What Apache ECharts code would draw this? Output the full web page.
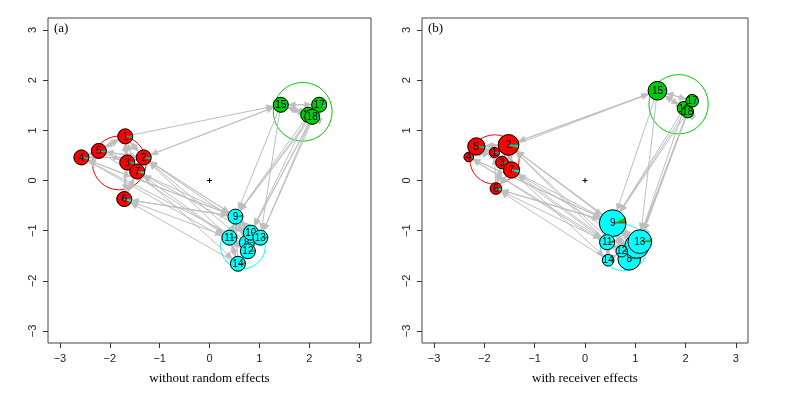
<!DOCTYPE html>
<html>
<head>
<meta charset="utf-8">
<script src="https://cdn.jsdelivr.net/npm/echarts@6/dist/echarts.min.js"></script>
<style>
  html, body { margin: 0; padding: 0; background: #fff; }
  #main { width: 801px; height: 399px; }
</style>
</head>
<body>
<div id="main"></div>
<script>
// axis ticks
var tickValues = [-3, -2, -1, 0, 1, 2, 3];
var axisLimit = 3.24;

// cluster colours: red, green3, cyan (R palette)
var clusterColors = ['#FF0000', '#00CD00', '#00FFFF'];
var nodeLabels = ['1','2','3','4','5','6','7','8','9','10','11','12','13','14','15','16','17','18'];

// panel (a): without random effects
var nodeXA = [-1.69, -1.32, -1.65, -2.57, -2.22, -1.71, -1.45, 0.75, 0.52, 0.83, 0.40, 0.77, 1.02, 0.57, 1.43, 1.98, 2.20, 2.06];
var nodeYA = [0.88, 0.46, 0.36, 0.46, 0.59, -0.37, 0.18, -1.24, -0.72, -1.04, -1.14, -1.41, -1.14, -1.66, 1.51, 1.31, 1.51, 1.27];
var nodeRA = [0.15, 0.15, 0.15, 0.15, 0.15, 0.15, 0.15, 0.15, 0.15, 0.15, 0.15, 0.15, 0.15, 0.15, 0.15, 0.15, 0.15, 0.15];
var pRedA   = [0.97, 0.96, 0.97, 0.96, 0.97, 0.93, 0.95, 0.01, 0.04, 0.01, 0.03, 0.01, 0.01, 0.03, 0.03, 0.01, 0.01, 0.01];
var pGreenA = [0.02, 0.02, 0.02, 0.02, 0.02, 0.01, 0.02, 0.02, 0.01, 0.02, 0.01, 0.02, 0.02, 0.01, 0.96, 0.96, 0.96, 0.96];
var pCyanA  = [0.01, 0.02, 0.01, 0.02, 0.01, 0.06, 0.03, 0.97, 0.95, 0.97, 0.96, 0.97, 0.97, 0.96, 0.01, 0.03, 0.03, 0.03];
var clusterXA = [-1.81, 1.87, 0.67];
var clusterYA = [0.35, 1.37, -1.31];
var clusterRA = [0.54, 0.59, 0.45];

// panel (b): with receiver effects
var nodeXB = [-1.80, -1.52, -1.65, -2.31, -2.16, -1.77, -1.46, 0.88, 0.55, 1.03, 0.44, 0.73, 1.09, 0.46, 1.44, 1.97, 2.13, 2.04];
var nodeYB = [0.56, 0.71, 0.36, 0.47, 0.68, -0.16, 0.21, -1.56, -0.85, -1.31, -1.23, -1.41, -1.22, -1.59, 1.79, 1.44, 1.59, 1.37];
var nodeRB = [0.10, 0.205, 0.125, 0.095, 0.17, 0.115, 0.16, 0.225, 0.265, 0.24, 0.15, 0.115, 0.235, 0.115, 0.185, 0.135, 0.125, 0.12];
var pRedB   = [0.97, 0.95, 0.97, 0.96, 0.97, 0.94, 0.94, 0.01, 0.03, 0.01, 0.04, 0.02, 0.01, 0.02, 0.03, 0.01, 0.01, 0.01];
var pGreenB = [0.02, 0.03, 0.02, 0.02, 0.02, 0.01, 0.02, 0.02, 0.04, 0.02, 0.01, 0.01, 0.03, 0.01, 0.96, 0.96, 0.96, 0.96];
var pCyanB  = [0.01, 0.02, 0.01, 0.02, 0.01, 0.05, 0.04, 0.97, 0.93, 0.97, 0.95, 0.97, 0.96, 0.97, 0.01, 0.03, 0.03, 0.03];
var clusterXB = [-1.80, 1.86, 0.77];
var clusterYB = [0.42, 1.52, -1.34];
var clusterRB = [0.49, 0.59, 0.46];

// directed ties (1-based node numbers)
var edgeFrom = [1,1,1, 2,2,2,2,2, 3,3,3,3, 4,4,4, 5,5,5,5, 6,6,6, 7,7,7,7,
                1,2, 4,5,6,6,7,2,3,4,
                8,9,9,10,11,12,13,14,9,8,
                8,8,8, 9,9,9,9, 10,10,10,10, 11,11,11, 12,12,12, 13,13,13, 14,14,14,
                15,15,15, 16,16,16, 17,17,17, 18,18,18,
                15,
                15,15,16,16,17,17,17,18,18,18];
var edgeTo   = [2,3,5, 1,3,4,5,7, 1,2,6,7, 2,5,1, 1,2,4,3, 3,7,1, 2,3,6,1,
                15,15, 9,11,9,11,9,9,14,12,
                2,2,6,7,2,7,2,6,4,4,
                9,10,12, 8,10,12,13, 9,8,13,12, 9,14,12, 8,9,13, 9,10,12, 9,11,12,
                16,17,18, 17,18,15, 16,18,15, 16,17,15,
                2,
                9,13,9,10,9,10,13,10,13,9];

function nodeData(xs, ys, rs, p1, p2, p3) {
  return xs.map(function (x, i) { return [x, ys[i], rs[i], p1[i], p2[i], p3[i]]; });
}
function edgeData(xs, ys, rs) {
  return edgeFrom.map(function (f, i) {
    var a = f - 1, b = edgeTo[i] - 1;
    return [xs[a], ys[a], xs[b], ys[b], rs[a], rs[b]];
  });
}
function clusterData(xs, ys, rs) {
  return xs.map(function (x, i) { return [x, ys[i], rs[i], i]; });
}

function renderNode(params, api) {
  var c = api.coord([api.value(0), api.value(1)]);
  var r = api.size([api.value(2), 0])[0];
  var probs = [api.value(3), api.value(4), api.value(5)];
  var children = [];
  var a = 0;
  for (var k = 0; k < 3; k++) {
    var b = a + probs[k] * 2 * Math.PI;
    if (probs[k] > 0) {
      children.push({
        type: 'sector',
        shape: { cx: c[0], cy: c[1], r: r, r0: 0, startAngle: -a, endAngle: -b, clockwise: false },
        style: { fill: clusterColors[k], stroke: clusterColors[k], lineWidth: 0.6 }
      });
    }
    a = b;
  }
  // radial border line at angle 0, as drawn by the pie outline
  children.push({
    type: 'line',
    shape: { x1: c[0], y1: c[1], x2: c[0] + r, y2: c[1] },
    style: { stroke: '#333', lineWidth: 0.5 }
  });
  children.push({
    type: 'circle',
    shape: { cx: c[0], cy: c[1], r: r },
    style: { fill: 'none', stroke: '#000', lineWidth: 1 }
  });
  children.push({
    type: 'text',
    style: {
      text: nodeLabels[params.dataIndex], x: c[0], y: c[1] + 0.5,
      align: 'center', verticalAlign: 'middle',
      font: '10px "Liberation Sans", Arial, sans-serif', fill: '#000'
    }
  });
  return { type: 'group', children: children };
}

function renderEdge(params, api) {
  var p1 = api.coord([api.value(0), api.value(1)]);
  var p2 = api.coord([api.value(2), api.value(3)]);
  var r1 = api.size([api.value(4), 0])[0];
  var r2 = api.size([api.value(5), 0])[0];
  var dx = p2[0] - p1[0], dy = p2[1] - p1[1];
  var len = Math.sqrt(dx * dx + dy * dy) || 1;
  var ux = dx / len, uy = dy / len;
  var sx = p1[0] + ux * r1, sy = p1[1] + uy * r1;
  var ex = p2[0] - ux * r2, ey = p2[1] - uy * r2;
  var hl = 7, hw = 3;
  var bx = ex - ux * hl, by = ey - uy * hl;
  return {
    type: 'group',
    children: [
      { type: 'line', shape: { x1: sx, y1: sy, x2: bx + ux * 2, y2: by + uy * 2 },
        style: { stroke: '#BEBEBE', lineWidth: 1 } },
      { type: 'polygon', shape: { points: [[ex, ey], [bx - uy * hw, by + ux * hw], [bx + uy * hw, by - ux * hw]] },
        style: { fill: '#BEBEBE', stroke: '#BEBEBE', lineWidth: 0.5 } }
    ]
  };
}

function renderCluster(params, api) {
  var c = api.coord([api.value(0), api.value(1)]);
  var r = api.size([api.value(2), 0])[0];
  return {
    type: 'circle',
    shape: { cx: c[0], cy: c[1], r: r },
    style: { fill: 'none', stroke: clusterColors[api.value(3)], lineWidth: 1 }
  };
}

function renderOrigin(params, api) {
  var c = api.coord([api.value(0), api.value(1)]);
  var s = 2.5;
  return {
    type: 'group',
    children: [
      { type: 'line', shape: { x1: c[0] - s, y1: c[1], x2: c[0] + s, y2: c[1] }, style: { stroke: '#000', lineWidth: 1 } },
      { type: 'line', shape: { x1: c[0], y1: c[1] - s, x2: c[0], y2: c[1] + s }, style: { stroke: '#000', lineWidth: 1 } }
    ]
  };
}

function fmt(v) { return String(v).replace('-', '\u2212'); }

function xAxisFor(idx, name) {
  return {
    type: 'value', gridIndex: idx, min: -axisLimit, max: axisLimit, position: 'bottom',
    name: name, nameLocation: 'middle', nameGap: 29,
    nameTextStyle: { fontFamily: '"Liberation Serif", serif', fontSize: 13, color: '#000' },
    axisLine: { show: false, onZero: false },
    axisTick: { show: true, length: 5, customValues: tickValues, lineStyle: { color: '#333' } },
    axisLabel: { customValues: tickValues, formatter: fmt, margin: 10,
      fontFamily: '"Liberation Sans", Arial, sans-serif', fontSize: 11, color: '#222' },
    splitLine: { show: false }
  };
}
function yAxisFor(idx) {
  return {
    type: 'value', gridIndex: idx, min: -axisLimit, max: axisLimit, position: 'left',
    axisLine: { show: false, onZero: false },
    axisTick: { show: true, length: 5, customValues: tickValues, lineStyle: { color: '#333' } },
    axisLabel: { customValues: tickValues, formatter: fmt, rotate: 90, margin: 10,
      fontFamily: '"Liberation Sans", Arial, sans-serif', fontSize: 11, color: '#222' },
    splitLine: { show: false }
  };
}

var myChart = echarts.init(document.getElementById('main'), null, { renderer: 'canvas' });

var panels = [
  { x: nodeXA, y: nodeYA, r: nodeRA, p1: pRedA, p2: pGreenA, p3: pCyanA, cx: clusterXA, cy: clusterYA, cr: clusterRA },
  { x: nodeXB, y: nodeYB, r: nodeRB, p1: pRedB, p2: pGreenB, p3: pCyanB, cx: clusterXB, cy: clusterYB, cr: clusterRB }
];

var series = [];
panels.forEach(function (p, i) {
  series.push({
    type: 'custom', xAxisIndex: i, yAxisIndex: i, renderItem: renderCluster,
    data: clusterData(p.cx, p.cy, p.cr), encode: { x: 0, y: 1 }, z: 1, silent: true
  });
  series.push({
    type: 'custom', xAxisIndex: i, yAxisIndex: i, renderItem: renderEdge,
    data: edgeData(p.x, p.y, p.r), encode: { x: [0, 2], y: [1, 3] }, z: 2, silent: true
  });
  series.push({
    type: 'custom', xAxisIndex: i, yAxisIndex: i, renderItem: renderNode,
    data: nodeData(p.x, p.y, p.r, p.p1, p.p2, p.p3), encode: { x: 0, y: 1 }, z: 3, silent: true
  });
  series.push({
    type: 'custom', xAxisIndex: i, yAxisIndex: i, renderItem: renderOrigin,
    data: [[0, 0]], encode: { x: 0, y: 1 }, z: 3, silent: true
  });
});

var option = {
  animation: false,
  backgroundColor: '#fff',
  title: [
    { text: '(a)', left: 54, top: 22, textStyle: { fontFamily: '"Liberation Serif", serif', fontSize: 13, fontWeight: 'normal', color: '#000' }, padding: 0 },
    { text: '(b)', left: 428, top: 22, textStyle: { fontFamily: '"Liberation Serif", serif', fontSize: 13, fontWeight: 'normal', color: '#000' }, padding: 0 }
  ],
  grid: [
    { left: 48, top: 18, width: 323, height: 325, show: true, borderColor: '#444', borderWidth: 1, backgroundColor: 'transparent' },
    { left: 422, top: 18, width: 326, height: 325, show: true, borderColor: '#444', borderWidth: 1, backgroundColor: 'transparent' }
  ],
  xAxis: [xAxisFor(0, 'without random effects'), xAxisFor(1, 'with receiver effects')],
  yAxis: [yAxisFor(0), yAxisFor(1)],
  series: series
};

myChart.setOption(option);
</script>
</body>
</html>
